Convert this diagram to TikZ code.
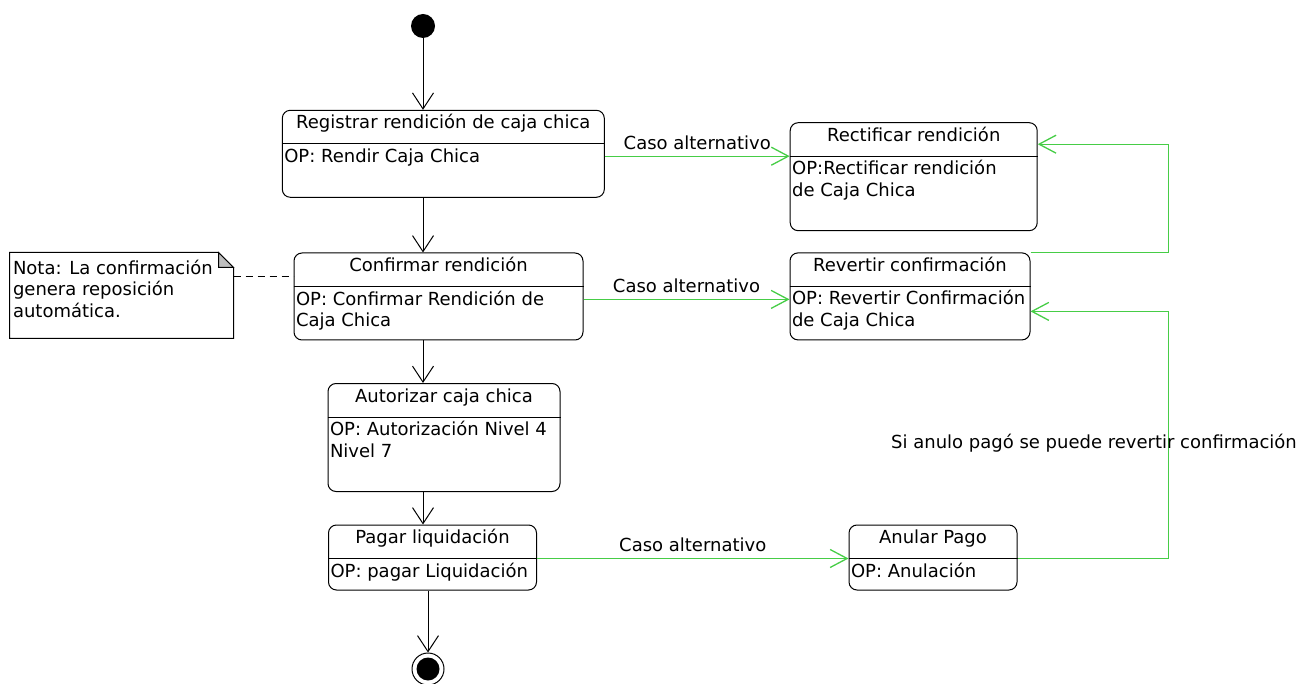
\documentclass[tikz,border=0pt]{standalone}
\usepackage{fontspec}
\setmainfont{DejaVu Sans}
\usetikzlibrary{arrows.meta,calc}

\definecolor{altgreen}{RGB}{70,205,70}
\definecolor{foldgray}{RGB}{190,190,190}

\tikzset{
  state/.style={draw, rounded corners=8pt, inner sep=0pt},
  stitle/.style={anchor=base, inner sep=0pt},
  sbody/.style={anchor=north west, inner sep=0pt, align=left},
  flow/.style={-{Straight Barb[length=16pt,width=21pt]}},
  alt/.style={altgreen, line width=1.3pt, -{Straight Barb[length=17pt,width=18pt]}},
  altlabel/.style={midway, above=6pt, inner sep=0pt},
}

% name, cx, cy, width, height, title, body
\newcommand{\umlstate}[7]{%
  \node[state, minimum width=#4pt, minimum height=#5pt] (#1) at (#2,#3) {};
  \coordinate (#1-sw) at ($(#1.north west)+(0,34)$);
  \coordinate (#1-se) at ($(#1.north east)+(0,34)$);
  \draw (#1-sw) -- (#1-se);
  \node[stitle] (#1-t) at ($(#1.north)+(0,19)$) {#6};
  \node[sbody] (#1-b) at ($(#1-sw)+(2,3)$) {\strut #7};
}

\begin{document}
\begin{tikzpicture}[x=1pt, y=-1pt, line width=1pt, font=\fontsize{18}{21.5}\selectfont]
\useasboundingbox (0,0) rectangle (1306,684);

% initial and final states
\node[circle, fill, inner sep=0pt, minimum size=24pt] (start) at (423,26) {};
\node[circle, draw, inner sep=0pt, minimum size=32pt] (end) at (428,669) {};
\fill (end) circle (11.5);

% main flow
\umlstate{reg}{443.3}{153.8}{322}{87}{Registrar rendición de caja chica}{OP: Rendir Caja Chica}
\umlstate{conf}{438.5}{296.5}{289}{87}{Confirmar rendición}{OP: Confirmar Rendición de\\Caja Chica}
\umlstate{aut}{444}{437.5}{232}{108}{Autorizar caja chica}{OP: Autorización Nivel 4\\Nivel 7}
\umlstate{pag}{432.5}{557.5}{208}{65}{Pagar liquidación}{OP: pagar Liquidación}

% alternative states
\umlstate{rect}{913.7}{176.7}{247}{108}{Rectificar rendición}{OP:Rectificar rendición\\de Caja Chica}
\umlstate{rev}{910}{296.4}{240}{87}{Revertir confirmación}{OP: Revertir Confirmación\\de Caja Chica}
\umlstate{anu}{933}{557.5}{168}{65}{Anular Pago}{OP: Anulación}

% note
\node[inner sep=0pt, minimum width=223pt, minimum height=85pt] (note) at (121.5,295.5) {};
\draw (note.north west) -- ($(note.north east)+(-15,0)$) -- ($(note.north east)+(0,15)$)
  -- (note.south east) -- (note.south west) -- cycle;
\filldraw[fill=foldgray] ($(note.north east)+(-15,0)$) -- ($(note.north east)+(-15,15)$)
  -- ($(note.north east)+(0,15)$) -- cycle;
\node[sbody] (note-t) at ($(note.north west)+(3,6)$) {\strut Nota: La confirmación\\genera reposición\\automática.};
\coordinate (note-e) at ($(note.north east)+(0,24)$);
\draw[dashed, dash pattern=on 7pt off 5pt] (note-e) -- (note-e -| conf.west);

% black transitions
\draw[flow] (start) -- (start |- reg.north);
\draw[flow] (reg.south -| start) -- (conf.north -| start);
\draw[flow] (conf.south -| start) -- (aut.north -| start);
\draw[flow] (aut.south -| start) -- (pag.north -| start);
\draw[flow] (pag.south -| end) -- (end);

% green transitions
\draw[alt] (reg.east |- rect-sw) -- (rect-sw)
  node[altlabel, black] {Caso alternativo};
\coordinate (rev-in) at ($(rev-sw)+(0,13)$);
\draw[alt] (conf.east |- rev-in) -- (rev-in)
  node[altlabel, black] {Caso alternativo};
\draw[alt] (pag.east |- anu-sw) -- (anu-sw)
  node[altlabel, black] {Caso alternativo};

% return paths
\coordinate (ret) at (1168.5,0);
\coordinate (rect-in) at ($(rect.north east)+(0,22)$);
\coordinate (rev-back) at ($(rev.north east)+(0,59)$);
\draw[alt] (rev.north east) -- (rev.north east -| ret) -- (ret |- rect-in) -- (rect-in);
\draw[alt] (anu-se) -- (anu-se -| ret) -- (ret |- rev-back) -- (rev-back);
\node (ret-label) at (1094,443) {Si anulo pagó se puede revertir confirmación};
\end{tikzpicture}
\end{document}
